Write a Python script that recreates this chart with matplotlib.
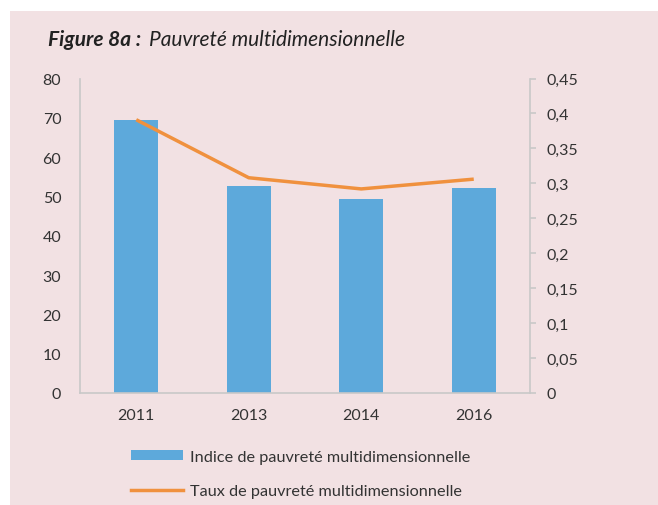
import matplotlib
matplotlib.use("Agg")
import matplotlib.pyplot as plt
from matplotlib.patches import Rectangle, Patch
from matplotlib.lines import Line2D
from matplotlib.ticker import FuncFormatter

years = ["2011", "2013", "2014", "2016"]
indice = [69.4, 52.6, 49.4, 52.1]
taux = [0.391, 0.308, 0.292, 0.306]
left_ticks = [0, 10, 20, 30, 40, 50, 60, 70, 80]
right_ticks = [0, 0.05, 0.1, 0.15, 0.2, 0.25, 0.3, 0.35, 0.4, 0.45]

plt.rcParams['font.family'] = ['Lato', 'DejaVu Sans']

BG = "#F2E1E3"
BLUE = "#5DA9DB"
ORANGE = "#F0913E"
GRAY = "#C8C8C8"
TXT = "#333333"

fig = plt.figure(figsize=(6.58, 5.06), dpi=100)
fig.patch.set_facecolor("white")
fig.add_artist(Rectangle((10/658, 0), 1 - 10/658, (506-12)/506, transform=fig.transFigure,
                         facecolor=BG, edgecolor="none", zorder=0))

ax = fig.add_axes([80/658, 1 - 394/506, 450/658, (394-79.5)/506])
ax.set_facecolor("none")
x = list(range(len(years)))
ax.bar(x, indice, width=0.39, color=BLUE, zorder=2)
ax.set_xlim(-0.5, 3.5)
ax.set_ylim(0, 80)
ax.set_yticks(left_ticks)
ax.set_xticks(x)
ax.set_xticklabels(years)
ax.tick_params(axis='y', length=0, pad=13.5, labelsize=11.5, colors=TXT)
ax.tick_params(axis='x', length=0, pad=10.5, labelsize=11.5, colors=TXT)
for s in ["top", "right"]:
    ax.spines[s].set_visible(False)
ax.spines["left"].set_color(GRAY)
ax.spines["bottom"].set_color(GRAY)
ax.spines["left"].set_linewidth(1.2)
ax.spines["bottom"].set_linewidth(1.2)

ax2 = ax.twinx()
ax2.plot(x, taux, color=ORANGE, linewidth=2.5, zorder=3, solid_capstyle='butt')
ax2.set_ylim(0, 0.45)
ax2.set_yticks(right_ticks)
ax2.yaxis.set_major_formatter(FuncFormatter(lambda v, p: ("%g" % round(v, 2)).replace(".", ",")))
ax2.tick_params(axis='y', length=4, width=1.2, pad=8, labelsize=11.5, labelcolor=TXT, color=GRAY)
for s in ["top", "left", "bottom"]:
    ax2.spines[s].set_visible(False)
ax2.spines["right"].set_color(GRAY)
ax2.spines["right"].set_linewidth(1.2)

fig.text(48/658, 1 - 40/506, "Figure 8a :", fontsize=15, fontweight="bold", fontstyle="italic",
         color="#222222", va="center", ha="left")
fig.text(149/658, 1 - 40/506, "Pauvreté multidimensionnelle", fontsize=15, fontstyle="italic",
         color="#222222", va="center", ha="left")

handles = [Patch(facecolor=BLUE, edgecolor="none"),
           Line2D([0], [0], color=ORANGE, linewidth=2.5)]
labels = ["Indice de pauvreté multidimensionnelle", "Taux de pauvreté multidimensionnelle"]
leg = fig.legend(handles, labels, loc="upper left", bbox_to_anchor=(131/658, 1 - 451/506),
                 frameon=False, fontsize=11.7, handlelength=3.2, handleheight=0.55,
                 labelspacing=1.25, handletextpad=0.45, borderpad=0, borderaxespad=0,
                 labelcolor=TXT)

fig.savefig("out.png", dpi=100, facecolor=fig.get_facecolor())
